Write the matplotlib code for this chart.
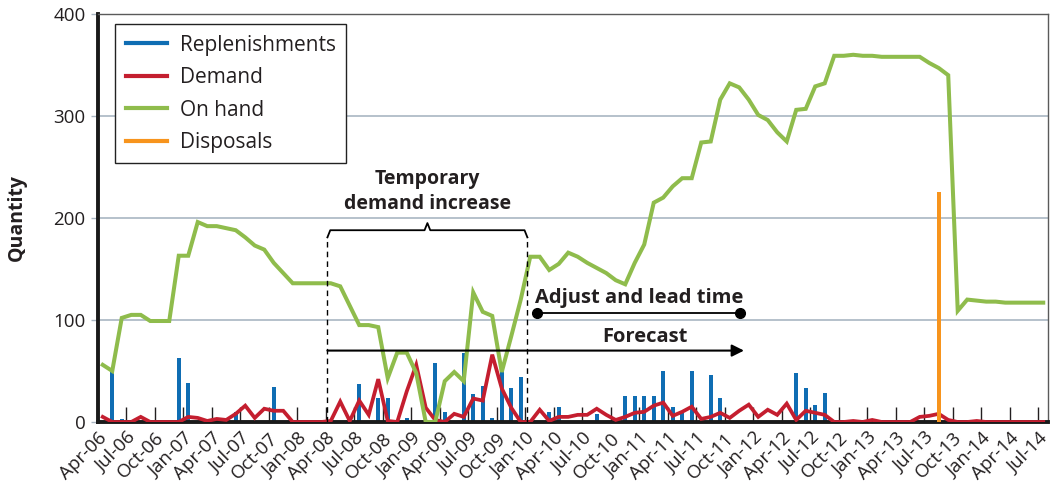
import numpy as np
import matplotlib
matplotlib.use("Agg")
import matplotlib.pyplot as plt
from matplotlib.lines import Line2D

plt.rcParams['font.family'] = ['Open Sans', 'DejaVu Sans']

# ---- data (monthly, Apr-06 .. Jul-14) ----
tick_labels = ["Apr-06", "Jul-06", "Oct-06", "Jan-07", "Apr-07", "Jul-07", "Oct-07", "Jan-08",
               "Apr-08", "Jul-08", "Oct-08", "Jan-09", "Apr-09", "Jul-09", "Oct-09", "Jan-10",
               "Apr-10", "Jul-10", "Oct-10", "Jan-11", "Apr-11", "Jul-11", "Oct-11", "Jan-12",
               "Apr-12", "Jul-12", "Oct-12", "Jan-13", "Apr-13", "Jul-13", "Oct-13", "Jan-14",
               "Apr-14", "Jul-14"]

on_hand = [56, 50, 102, 105, 105, 99, 99, 99, 163, 163,
           196, 192, 192, 190, 188, 181, 173, 169, 156, 146,
           136, 136, 136, 136, 136, 133, 114, 95, 95, 93,
           43, 68, 68, 48, 0, 0, 40, 49, 40, 127,
           108, 104, 49, 84, 120, 162, 162, 149, 155, 166,
           162, 156, 151, 146, 139, 135, 156, 174, 215, 220,
           231, 239, 239, 274, 275, 316, 332, 328, 316, 301,
           296, 284, 275, 306, 307, 329, 332, 359, 359, 360,
           359, 359, 358, 358, 358, 358, 358, 352, 347, 340,
           109, 120, 119, 118, 118, 117, 117, 117, 117, 117]

demand = [5, 0, 0, 0, 5, 0, 0, 0, 0, 5,
          4, 1, 3, 2, 8, 16, 4, 13, 11, 11,
          0, 0, 0, 0, 1, 20, 1, 21, 7, 42,
          1, 0, 30, 56, 14, 2, 0, 8, 5, 23,
          21, 66, 33, 14, 0, 0, 12, 1, 5, 5,
          7, 7, 13, 7, 2, 5, 9, 10, 16, 19,
          6, 10, 15, 3, 5, 9, 4, 11, 17, 5,
          12, 7, 18, 2, 11, 9, 7, 0, 0, 1,
          0, 2, 0, 0, 0, 0, 5, 6, 8, 2,
          0, 0, 1, 0, 0, 0, 0, 0, 0, 0]

repl_month = [1, 2, 8, 9, 14, 18, 27, 29, 30, 32, 35, 36, 38, 39, 40, 41, 42, 43, 44,
              47, 48, 52, 55, 56, 57, 58, 59, 60, 61, 62, 64, 65, 73, 74, 75, 76]
repl_qty = [50, 3, 63, 38, 10, 34, 37, 24, 24, 4, 58, 10, 68, 27, 35, 4, 52, 33, 44,
            10, 15, 8, 25, 25, 25, 25, 50, 15, 11, 50, 46, 24, 48, 33, 17, 28]

disp_month = [88]
disp_qty = [225]

BLUE = '#0f6db3'
RED = '#c41e2f'
GREEN = '#8fbc4c'
ORANGE = '#f7941d'
TXT = '#231f20'

n = len(on_hand)
x = np.arange(n) + 0.5

fig = plt.figure(figsize=(10.56, 4.87), dpi=100)
ax = fig.add_axes([0.0928, 0.1335, 0.8996, 0.8378])

ax.bar(np.array(repl_month) + 0.5, repl_qty, width=0.4, color=BLUE, zorder=2)
ax.plot(x, demand, color=RED, lw=2.7, zorder=4, solid_joinstyle='miter')
ax.plot(x, on_hand, color=GREEN, lw=2.9, zorder=5, solid_joinstyle='miter')
ax.bar(np.array(disp_month) + 0.5, disp_qty, width=0.45, color=ORANGE, zorder=4.5)

ax.set_xlim(0, n)
ax.set_ylim(0, 400)
ax.set_yticks([0, 100, 200, 300, 400])
ax.set_yticklabels(['0', '100', '200', '300', '400'], fontsize=13.5, color=TXT)
ax.yaxis.grid(True, color='#a9b6c2', lw=1.2, zorder=0)
ax.set_axisbelow(True)
ax.tick_params(axis='y', length=5, width=1, color='#a9b6c2', pad=4)

xt = np.arange(0, n, 3)
ax.set_xticks(xt)
ax.set_xticklabels(tick_labels, rotation=45, ha='right', va='top',
                   rotation_mode='anchor', fontsize=13.5, color=TXT)
ax.tick_params(axis='x', direction='in', length=11, width=1, color=TXT, pad=5)

for s in ['left', 'bottom']:
    ax.spines[s].set_linewidth(2.8)
    ax.spines[s].set_color('#1a1a1a')
for s in ['top', 'right']:
    ax.spines[s].set_linewidth(1.0)
    ax.spines[s].set_color('#5a5a5a')

ax.set_ylabel('Quantity', fontsize=14, fontweight='bold', color=TXT, labelpad=19)

# ---- annotations ----
xl, xr = 24.15, 45.2
ax.plot([xl, xl], [0, 181], ls=(0, (4, 3)), color='black', lw=1, zorder=6)
ax.plot([xr, xr], [0, 181], ls=(0, (4, 3)), color='black', lw=1, zorder=6)
xc = (xl + xr) / 2
ax.plot([xl, xl + 0.3, xc - 0.3, xc, xc + 0.3, xr - 0.3, xr],
        [181, 188, 188, 195, 188, 188, 181], color='black', lw=1.3, zorder=6)
ax.text(xc, 226, 'Temporary\ndemand increase', ha='center', va='center',
        fontsize=14, fontweight='bold', color=TXT, linespacing=1.3)

ax.annotate('', xy=(68.0, 70), xytext=(xl, 70),
            arrowprops=dict(arrowstyle='-|>', color='black', lw=1.5,
                            mutation_scale=18, shrinkA=0, shrinkB=0), zorder=6)
ax.text(57.6, 83.5, 'Forecast', ha='center', va='center', fontsize=14.5,
        fontweight='bold', color=TXT)

ax.plot([46.2, 67.6], [107, 107], color='black', lw=1.3, marker='o', ms=7, zorder=6)
ax.text(57.0, 122, 'Adjust and lead time', ha='center', va='center', fontsize=14.5,
        fontweight='bold', color=TXT)

handles = [Line2D([], [], color=BLUE, lw=3),
           Line2D([], [], color=RED, lw=3),
           Line2D([], [], color=GREEN, lw=3),
           Line2D([], [], color=ORANGE, lw=3)]
leg = ax.legend(handles, ['Replenishments', 'Demand', 'On hand', 'Disposals'],
                loc='upper left', bbox_to_anchor=(0.018, 0.975), fontsize=15,
                frameon=True, fancybox=False, edgecolor='#222222', framealpha=1,
                handlelength=2.0, handletextpad=0.6, labelspacing=0.55,
                borderpad=0.5, borderaxespad=0)
leg.get_frame().set_linewidth(1.0)
for t in leg.get_texts():
    t.set_color(TXT)
leg.set_zorder(10)

fig.savefig('out.png', dpi=100)
